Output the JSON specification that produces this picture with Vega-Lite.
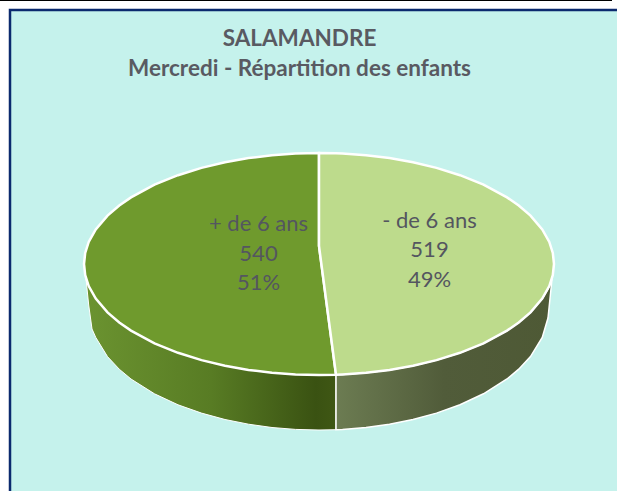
{
"$schema":"https://vega.github.io/schema/vega-lite/v6.json",
"width":617,"height":491,"padding":0,"autosize":{"type":"none"},
"background":"#ffffff",
"view":{"stroke":null},
"title":{"text":["SALAMANDRE","Mercredi - Répartition des enfants"],"anchor":"middle","frame":"group","baseline":"middle","dy":95,"dx":-9,"lineHeight":30,"font":"Lato","fontSize":22.5,"fontWeight":"bold","color":"#595a62"},
"datasets":{
"frame":[{"x":10,"x2":640,"y":10,"y2":510}],
"topline":[{"x":0,"x2":612,"y":0}],
"plus_top":[
{"x":84,"y":264,"y2":264},{"x":85.2,"y":252.9,"y2":275.1},{"x":88.7,"y":241.9,"y2":286.1},{"x":95.75,"y":229.4,"y2":298.6},{"x":107.5,"y":215.6,"y2":312.4},{"x":119.25,"y":205.5,"y2":322.5},{"x":131,"y":197.4,"y2":330.6},{"x":154.5,"y":184.7,"y2":343.3},{"x":178,"y":175.2,"y2":352.8},{"x":201.5,"y":167.9,"y2":360.1},{"x":225,"y":162.2,"y2":365.8},{"x":248.5,"y":158.1,"y2":369.9},{"x":272,"y":155.2,"y2":372.8},{"x":295.5,"y":153.6,"y2":374.4},{"x":319,"y":153,"y2":375},{"x":319.01,"y":246,"y2":375},{"x":336,"y":374.7,"y2":374.7}],
"minus_top":[
{"x":319,"y":153,"y2":246},{"x":336,"y":153.3,"y2":374.7},{"x":342.5,"y":153.6,"y2":374.4},{"x":366,"y":155.2,"y2":372.8},{"x":389.5,"y":158.1,"y2":369.9},{"x":413,"y":162.2,"y2":365.8},{"x":436.5,"y":167.9,"y2":360.1},{"x":460,"y":175.2,"y2":352.8},{"x":483.5,"y":184.7,"y2":343.3},{"x":507,"y":197.4,"y2":330.6},{"x":518.75,"y":205.5,"y2":322.5},{"x":530.5,"y":215.6,"y2":312.4},{"x":542.25,"y":229.4,"y2":298.6},{"x":549.3,"y":241.9,"y2":286.1},{"x":552.8,"y":252.9,"y2":275.1},{"x":554,"y":264,"y2":264}],
"plus_side":[
{"x":86,"y":279,"y2":279},{"x":88.7,"y":286.1,"y2":305},{"x":92,"y":292,"y2":329},{"x":95.75,"y":298.6,"y2":337.4},{"x":107.5,"y":312.4,"y2":356.6},{"x":119.25,"y":322.5,"y2":369.2},{"x":131,"y":330.6,"y2":379},{"x":154.5,"y":343.3,"y2":393.8},{"x":178,"y":352.8,"y2":404.8},{"x":201.5,"y":360.1,"y2":413.1},{"x":225,"y":365.8,"y2":419.5},{"x":248.5,"y":369.9,"y2":424.2},{"x":272,"y":372.8,"y2":427.5},{"x":295.5,"y":374.4,"y2":429.4},{"x":319,"y":375,"y2":430},{"x":336,"y":374.7,"y2":429.7}],
"minus_side":[
{"x":336,"y":374.7,"y2":429.7},{"x":342.5,"y":374.4,"y2":429.4},{"x":366,"y":372.8,"y2":427.5},{"x":389.5,"y":369.9,"y2":424.2},{"x":413,"y":365.8,"y2":419.5},{"x":436.5,"y":360.1,"y2":413.1},{"x":460,"y":352.8,"y2":404.8},{"x":483.5,"y":343.3,"y2":393.8},{"x":507,"y":330.6,"y2":379},{"x":518.75,"y":322.5,"y2":369.2},{"x":530.5,"y":312.4,"y2":356.6},{"x":542.25,"y":298.6,"y2":337.4},{"x":548,"y":289,"y2":318},{"x":552,"y":279,"y2":279}],
"labels":[
{"t":"+ de 6 ans","x":258.5,"y":224},{"t":"540","x":258.5,"y":254},{"t":"51%","x":258.5,"y":283},
{"t":"- de 6 ans","x":429.5,"y":221},{"t":"519","x":429.5,"y":250},{"t":"49%","x":429.5,"y":280}]
},
"encoding":{
"x":{"field":"x","type":"quantitative","scale":{"domain":[0,617],"nice":false,"zero":false},"axis":null},
"y":{"field":"y","type":"quantitative","scale":{"domain":[491,0],"nice":false,"zero":false},"axis":null}
},
"layer":[
{"data":{"name":"frame"},"mark":{"type":"rect","fill":"#c5f2ec","stroke":"#0b2a6e","strokeWidth":2.5,"clip":true},"encoding":{"x2":{"field":"x2"},"y2":{"field":"y2"}}},
{"data":{"name":"topline"},"mark":{"type":"rule","stroke":"#000000","strokeWidth":2,"clip":true},"encoding":{"x2":{"field":"x2"}}},
{"data":{"name":"plus_side"},"mark":{"type":"area","orient":"vertical","stroke":"#ffffff","strokeWidth":1,"fill":{"gradient":"linear","x1":0,"y1":0,"x2":1,"y2":0,"stops":[{"offset":0,"color":"#6b9330"},{"offset":0.5,"color":"#587c24"},{"offset":0.92,"color":"#3a5212"},{"offset":1,"color":"#3f5714"}]}},"encoding":{"y":{"field":"y","type":"quantitative","stack":null},"y2":{"field":"y2"}}},
{"data":{"name":"minus_side"},"mark":{"type":"area","orient":"vertical","stroke":"#ffffff","strokeWidth":1.5,"fill":{"gradient":"linear","x1":0,"y1":0,"x2":1,"y2":0,"stops":[{"offset":0,"color":"#6c7c52"},{"offset":0.5,"color":"#515c3a"},{"offset":1,"color":"#4e5935"}]}},"encoding":{"y":{"field":"y","type":"quantitative","stack":null},"y2":{"field":"y2"}}},
{"data":{"name":"plus_top"},"mark":{"type":"area","orient":"vertical","fill":"#6f9a2d","stroke":"#ffffff","strokeWidth":2.5},"encoding":{"y":{"field":"y","type":"quantitative","stack":null},"y2":{"field":"y2"}}},
{"data":{"name":"minus_top"},"mark":{"type":"area","orient":"vertical","fill":"#bddb8c","stroke":"#ffffff","strokeWidth":2.5},"encoding":{"y":{"field":"y","type":"quantitative","stack":null},"y2":{"field":"y2"}}},
{"data":{"name":"labels"},"mark":{"type":"text","font":"Lato","fontSize":22,"color":"#545660","baseline":"middle","align":"center"},"encoding":{"text":{"field":"t"}}}
]
}
